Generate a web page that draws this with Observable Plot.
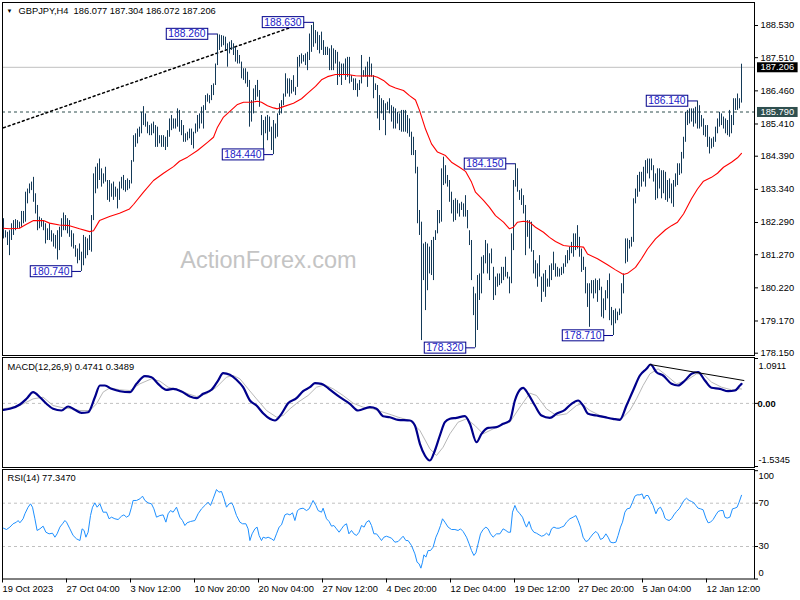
<!DOCTYPE html>
<html><head><meta charset="utf-8">
<script src="https://cdn.jsdelivr.net/npm/d3@7"></script>
<script src="https://cdn.jsdelivr.net/npm/@observablehq/plot@0.6"></script>
<style>
body{margin:0;background:#fff;}
#wrap{position:relative;width:800px;height:600px;overflow:hidden;background:#fff;}
#wrap > div{position:absolute;left:0;}
svg{overflow:visible;}
</style></head><body>
<div id="wrap"><div id="main" style="top:0"></div><div id="macd" style="top:356px"></div><div id="rsi" style="top:468px"></div></div>
<script>
// ---------- DATA ----------
const symbolTitle = "GBPJPY,H4  186.077 187.304 186.072 187.206";
const macdTitle = "MACD(12,26,9) 0.4741 0.3489";
const rsiTitle = "RSI(14) 77.3470";
const watermark = "ActionForex.com";

const high = [
182.41,182.03,181.98,182.03,182.25,182.35,182.38,182.35,182.30,182.64,
182.64,183.25,183.35,183.51,183.57,183.72,183.20,182.83,182.46,182.41,
182.35,182.25,182.09,182.25,182.03,181.93,181.88,182.03,182.14,182.41,
182.59,182.51,182.41,182.35,182.03,181.93,181.56,181.45,181.61,181.35,
181.88,181.82,181.77,181.88,182.51,183.83,184.04,184.15,184.30,183.99,
183.83,184.04,183.62,183.62,183.51,183.57,183.41,183.35,183.57,183.72,
183.78,183.62,183.67,183.62,184.25,185.04,185.10,185.25,185.31,185.78,
185.96,185.73,185.47,185.36,185.41,185.47,185.36,185.31,185.04,185.04,
185.04,184.99,185.20,185.57,185.68,185.57,185.57,185.89,185.84,185.52,
185.36,185.10,185.15,185.25,185.25,185.15,185.41,185.68,185.73,185.94,
185.99,186.31,186.36,186.31,186.63,186.68,187.31,188.26,188.23,188.21,
188.19,188.16,187.95,188.00,188.05,187.95,187.84,187.74,187.58,187.37,
187.16,187.16,187.05,186.79,186.15,186.52,186.63,186.79,186.47,185.68,
185.52,185.63,185.68,185.63,185.31,185.52,185.41,185.73,186.05,186.15,
186.36,187.00,186.84,186.84,186.79,186.94,186.57,187.52,187.58,187.63,
187.58,187.63,187.68,188.26,188.53,188.63,188.37,188.32,188.21,188.32,
188.05,187.84,187.84,187.79,187.89,187.79,187.74,187.68,187.37,187.31,
187.31,187.47,187.52,187.52,186.94,186.84,186.84,186.68,186.79,187.58,
187.10,187.21,187.37,187.52,187.31,186.94,186.68,186.63,186.31,186.21,
186.15,186.05,186.10,186.21,185.99,185.94,185.89,185.78,185.73,185.84,
185.84,185.84,185.68,185.57,185.15,184.99,184.57,184.04,182.67,182.30,
181.61,181.66,181.61,181.51,181.72,181.82,182.03,182.67,182.67,183.99,
184.36,184.09,183.78,183.62,183.25,182.99,183.04,182.99,182.88,182.93,
182.88,183.14,182.67,182.03,181.72,180.24,180.03,180.61,180.66,181.19,
181.24,181.72,181.61,181.30,181.45,180.87,180.56,180.66,180.66,180.87,
180.87,181.19,180.71,180.56,181.93,183.62,184.15,183.99,183.30,183.35,
183.14,182.83,182.35,182.35,182.30,181.40,181.08,180.98,181.24,180.56,
180.66,180.77,180.50,180.92,180.98,181.35,180.98,180.87,180.82,180.87,
180.98,181.24,181.40,181.51,181.66,181.93,181.93,182.19,181.82,181.45,
181.19,180.87,180.35,180.35,180.45,180.45,180.50,180.45,180.50,180.24,
179.87,180.13,180.45,180.66,179.60,179.50,179.55,179.45,179.55,180.35,
180.66,181.77,181.77,181.72,181.82,183.04,183.35,183.78,183.88,183.88,
184.04,184.25,184.30,184.30,184.30,184.09,183.83,183.99,183.99,183.93,
183.93,183.88,183.62,183.67,183.51,183.62,183.83,184.15,184.15,184.51,
184.99,185.78,185.84,185.89,185.89,185.89,185.94,186.14,185.99,185.68,
185.57,185.36,185.36,184.99,184.94,184.99,185.31,185.57,185.78,185.73,
185.63,185.57,185.52,185.84,185.68,186.21,186.21,186.36,186.21,187.304];

const low = [
181.77,181.80,181.56,181.24,181.72,181.88,182.03,182.09,182.09,182.14,
182.25,182.30,182.88,183.20,183.30,182.93,182.56,182.03,182.09,182.14,
182.03,181.61,181.72,181.72,181.67,181.51,181.45,181.10,181.40,181.82,
182.03,182.03,181.93,181.82,181.51,181.45,181.19,180.98,181.08,180.74,
180.92,181.14,181.24,181.40,181.35,182.35,183.20,183.35,183.62,183.41,
183.51,183.57,182.99,182.93,183.09,182.99,183.09,182.72,182.99,183.35,
183.30,183.25,183.30,183.35,183.51,184.20,184.67,184.78,184.99,185.10,
185.36,185.31,185.10,185.04,185.04,185.10,184.67,184.67,184.78,184.67,
184.67,184.57,184.67,184.99,185.20,185.25,185.25,185.31,185.15,185.04,
184.83,184.83,184.88,184.94,184.73,184.62,185.10,185.15,185.25,185.41,
185.25,185.84,186.10,186.05,186.15,186.31,186.63,187.26,187.74,187.84,
187.89,187.74,187.21,187.63,187.74,187.58,187.37,187.31,187.31,186.84,
186.79,186.68,186.57,185.31,185.47,185.73,186.15,186.26,185.94,185.04,
184.46,185.10,184.88,185.15,184.57,184.44,184.94,184.99,185.68,185.73,
185.99,186.26,186.36,186.26,186.36,186.42,186.31,186.57,187.21,187.31,
187.37,187.26,187.10,187.42,187.68,187.84,187.95,187.74,187.63,187.74,
187.58,187.58,187.58,187.10,187.10,187.10,187.31,186.63,186.89,186.63,
186.94,186.79,186.89,186.68,186.73,186.47,186.47,186.26,186.47,186.68,
186.89,186.89,186.57,186.89,186.89,186.21,186.47,185.57,185.20,185.73,
185.52,185.04,185.84,185.73,185.47,185.25,185.25,185.41,185.20,185.15,
185.15,185.15,185.10,184.99,184.41,184.41,183.83,182.25,181.88,178.55,
180.45,179.50,180.13,180.66,180.61,180.45,181.72,181.93,182.25,182.30,
183.46,183.51,183.41,182.93,182.56,182.30,182.35,182.56,182.46,182.67,
182.46,182.46,182.09,181.56,180.45,179.34,178.32,178.87,179.82,180.03,
180.66,180.98,180.66,180.45,180.98,179.82,179.97,180.24,180.29,180.35,
180.45,180.56,180.50,180.03,180.35,181.40,183.41,183.25,182.99,182.83,
182.56,181.24,181.82,181.45,181.35,180.66,180.50,180.24,180.56,179.76,
180.08,179.92,180.24,180.24,180.45,180.77,180.56,180.56,180.56,180.61,
180.66,180.87,180.98,181.08,181.30,181.19,181.40,181.45,181.19,180.71,
180.77,180.03,179.60,178.97,180.03,179.87,180.03,179.76,180.13,179.29,
179.24,179.50,179.87,179.18,179.02,178.71,179.08,179.18,179.34,179.39,
180.03,180.98,181.03,181.45,181.51,181.66,182.88,183.09,183.25,183.41,
183.57,183.41,183.83,183.67,183.93,183.57,182.99,183.04,183.35,183.04,
183.20,182.99,182.93,183.04,182.88,182.77,183.41,183.46,183.78,183.83,
184.30,184.83,185.36,185.41,185.47,185.31,185.41,185.25,185.25,185.31,
185.04,184.99,184.67,184.46,184.62,184.67,184.83,185.10,185.31,185.36,
185.25,185.10,185.04,184.99,185.10,185.36,185.84,185.84,185.89,186.072];

// moving average (bar index, price)
const maPoints = [[0,182.11],[3,182.09],[8,182.11],[11,182.22],[15,182.35],[20,182.35],[23,182.27],[28,182.21],[33,182.19],[38,182.09],[43,182.00],[45,182.03],[48,182.35],[53,182.48],[58,182.58],[63,182.72],[65,182.86],[70,183.25],[75,183.62],[80,183.85],[85,184.06],[88,184.23],[92,184.36],[97,184.57],[102,184.83],[105,184.99],[107,185.31],[110,185.63],[114,185.86],[117,186.03],[120,186.10],[124,186.10],[127,186.13],[129,186.10],[132,185.99],[135,185.92],[137,185.89],[140,185.96],[145,186.07],[149,186.21],[152,186.38],[156,186.60],[159,186.81],[162,186.91],[166,186.98],[169,186.98],[172,186.98],[176,186.94],[179,186.93],[182,186.94],[185,186.93],[187,186.89],[190,186.79],[193,186.63],[196,186.55],[200,186.47],[203,186.31],[206,186.17],[208,185.84],[211,185.25],[214,184.78],[217,184.52],[221,184.41],[224,184.20],[228,184.04],[231,183.91],[234,183.57],[236,183.25],[240,182.99],[243,182.77],[246,182.51],[250,182.30],[253,182.09],[255,182.14],[257,182.30],[260,182.33],[263,182.30],[266,182.14],[270,181.98],[273,181.82],[276,181.69],[280,181.56],[284,181.53],[287,181.53],[290,181.51],[292,181.29],[297,181.14],[302,180.95],[306,180.79],[310,180.64],[312,180.68],[316,180.87],[319,181.14],[322,181.45],[326,181.77],[331,182.06],[334,182.19],[337,182.30],[340,182.56],[344,183.04],[347,183.35],[350,183.60],[354,183.72],[357,183.85],[360,184.04],[364,184.20],[367,184.34],[369,184.48]];

const lastPrice = 187.206;
const levelPrice = 185.790;
const trendPoints = [[0,185.29],[150,188.61]];
const callouts = [[39,180.74],[107,188.26],[135,184.44],[155,188.63],[236,178.32],[256,184.15],[305,178.71],[347,186.14]];
const priceTicks = [188.530,187.510,186.460,185.410,184.390,183.340,182.290,181.270,180.220,179.170,178.150];

const macdPoints = [[0,-0.156],[3.2,-0.132],[8.2,-0.027],[11.5,0.111],[14.8,0.272],[18.2,0.150],[21.5,-0.010],[24.8,-0.132],[29,-0.173],[32.3,-0.076],[35.7,-0.156],[39,-0.229],[42.3,-0.215],[45.7,0.150],[48.2,0.435],[50.7,0.435],[54,0.354],[58.2,0.296],[63.2,0.272],[66.5,0.476],[70.7,0.661],[74,0.636],[77.3,0.476],[81.5,0.330],[84.8,0.354],[89,0.289],[93.2,0.167],[96.5,0.126],[99.8,0.233],[104,0.330],[107.3,0.556],[109.8,0.734],[113.2,0.695],[116.5,0.573],[119.8,0.393],[123.2,0.070],[126.5,-0.052],[129.8,-0.239],[133.2,-0.375],[135.7,-0.416],[139,-0.254],[142.3,0.004],[146.5,0.126],[149.8,0.296],[153.2,0.393],[155.7,0.491],[159,0.476],[162.3,0.369],[164.8,0.272],[168.2,0.150],[173.2,-0.010],[177.3,-0.173],[183.2,-0.093],[186.5,-0.132],[189.8,-0.312],[193.2,-0.336],[197.3,-0.400],[203.2,-0.416],[205.7,-0.538],[208.2,-0.983],[210.7,-1.267],[213.2,-1.389],[215.7,-1.146],[218.2,-0.781],[220.7,-0.458],[223.2,-0.375],[226.5,-0.351],[230.7,-0.312],[233.2,-0.497],[236.5,-0.944],[239,-0.740],[242.3,-0.594],[246.5,-0.579],[249.8,-0.497],[253.2,-0.416],[255.7,0.070],[258.2,0.330],[259.8,0.379],[262.3,0.233],[265.7,-0.052],[269,-0.295],[273.2,-0.351],[276.5,-0.254],[280.7,-0.156],[284,-0.010],[287.3,0.070],[289.8,-0.052],[292.3,-0.254],[296.5,-0.295],[300.7,-0.336],[304.8,-0.375],[308.2,-0.399],[311.5,-0.052],[314.8,0.313],[318.2,0.678],[321.5,0.841],[323.5,0.945],[326.5,0.758],[329.8,0.678],[334,0.476],[337.3,0.435],[340.7,0.556],[344,0.719],[347.3,0.758],[350.7,0.556],[354,0.379],[358.2,0.354],[362.3,0.296],[365.7,0.313],[368.2,0.435],[369,0.474]];

const signalPoints = [[0,-0.133],[8.2,-0.052],[14.8,0.110],[19.8,0.150],[24.8,-0.052],[29.8,-0.108],[34,-0.133],[38.2,-0.173],[43.2,-0.173],[46.5,-0.011],[49.8,0.273],[53.2,0.378],[58.2,0.329],[63.2,0.313],[68.2,0.475],[74,0.597],[78.2,0.540],[82.3,0.394],[87.3,0.337],[92.3,0.232],[96.5,0.167],[101.5,0.232],[106.5,0.394],[111.5,0.637],[114.8,0.678],[118.2,0.597],[122.3,0.354],[126.5,0.110],[131.5,-0.173],[136.5,-0.335],[139.8,-0.295],[143.2,-0.133],[147.3,0.030],[152.3,0.192],[156.5,0.394],[160.7,0.451],[164.8,0.354],[169.8,0.192],[174.8,0.005],[179.8,-0.092],[184.8,-0.133],[189.8,-0.214],[194,-0.279],[197.3,-0.335],[203.2,-0.416],[208.2,-0.659],[213.2,-1.105],[216.5,-1.267],[219.8,-1.065],[223.2,-0.740],[227.3,-0.457],[231.5,-0.376],[235.7,-0.538],[239.8,-0.740],[243.2,-0.659],[248.2,-0.538],[253.2,-0.457],[258.2,-0.092],[263.2,0.248],[266.5,0.192],[271.5,-0.133],[276.5,-0.295],[281.5,-0.254],[286.5,-0.052],[289,-0.011],[293.2,-0.173],[298.2,-0.295],[304.8,-0.376],[309,-0.376],[313.2,-0.173],[316.5,0.110],[319.8,0.435],[323.2,0.718],[327.3,0.840],[331.5,0.678],[336.5,0.475],[341.5,0.556],[346.5,0.718],[349.8,0.718],[354,0.516],[359,0.394],[364,0.329],[368.2,0.354],[369,0.349]];

const macdTrend = [[323.2,0.945],[370.2,0.556]];
const macdMax = 1.0911, macdMin = -1.5345;

const rsiPoints = [[0,46.9],[1.5,45.7],[3.2,47.9],[4.8,51.0],[6.5,52.5],[7.3,54.0],[8.2,51.9],[9.8,55.6],[10.7,60.2],[12.3,66.3],[13.5,69.4],[14.5,66.3],[15.7,55.6],[16.8,44.8],[18.2,46.3],[19.8,48.8],[21.2,43.2],[22.8,41.7],[24.5,42.3],[25.7,38.6],[26.8,41.7],[28.2,47.9],[29.5,51.0],[30.7,54.0],[31.5,52.5],[33.2,46.3],[34.8,40.2],[36.5,37.1],[38.2,35.5],[39.3,46.3],[40.3,44.8],[41.2,38.6],[42.3,43.2],[43.5,58.6],[44.5,66.3],[45.7,70.3],[46.8,66.3],[48.2,69.4],[49.8,61.7],[51.5,61.7],[52.8,55.6],[54,57.1],[55.7,55.6],[57.3,54.9],[59,58.0],[60.2,59.2],[61.5,57.1],[62.8,58.6],[64,66.3],[64.8,72.5],[66.5,72.5],[68.2,74.0],[69.5,76.5],[70.7,72.5],[72.3,70.3],[74,69.4],[75.2,64.8],[76.5,57.1],[78.2,58.6],[79.8,59.2],[81.2,52.5],[82.3,60.2],[83.5,63.2],[84.8,61.7],[86.5,66.3],[88.2,57.1],[89.5,54.0],[90.7,49.4],[91.8,51.9],[93.5,53.1],[95.7,54.0],[97.3,60.2],[99,64.8],[100.7,67.9],[102.3,70.9],[103.5,67.9],[104.8,74.0],[106.5,82.6],[107.7,80.2],[109,80.8],[110.2,74.6],[111.5,66.3],[112.8,69.4],[114,70.3],[114.8,67.9],[116.5,58.6],[118.2,52.5],[119.5,51.0],[121.2,51.0],[122.3,46.3],[123.2,35.5],[124.3,41.7],[125.7,46.3],[126.8,47.9],[127.8,40.2],[129,35.5],[129.8,38.6],[131.2,37.7],[132.3,38.6],[134,37.1],[135.2,35.5],[136.5,41.7],[137.8,47.9],[139,50.0],[140.7,59.2],[141.8,60.2],[143.2,59.2],[144.5,61.1],[145.7,54.0],[147,63.2],[148.2,64.8],[149.8,65.4],[151.5,63.2],[152.8,64.8],[154,69.4],[154.8,72.5],[156.2,67.9],[157.3,63.2],[159,61.7],[159.8,65.4],[161.5,55.6],[162.8,53.1],[164,48.8],[165.2,49.4],[166.5,46.3],[167.8,43.2],[169,46.3],[170.2,49.4],[171.5,51.0],[172.7,41.7],[174,44.8],[175.2,41.7],[176.5,40.2],[177.8,43.2],[179,49.4],[180.3,47.9],[181.5,52.5],[182.8,54.0],[184,49.4],[185.2,41.7],[186.5,41.7],[187.8,38.6],[189,35.5],[190.2,38.6],[191.5,39.5],[192.8,38.6],[194,37.7],[195.7,34.0],[197.3,34.6],[199.8,39.5],[201.2,35.5],[202.3,35.5],[204,30.9],[205.7,23.2],[206.8,15.5],[207.8,14.0],[208.7,10.0],[209.5,15.5],[210.2,22.3],[211.2,20.2],[212.3,26.3],[213.5,26.3],[214.8,29.4],[216.2,38.6],[217.3,43.2],[218.5,49.4],[219.5,55.6],[220.7,52.5],[222.3,47.9],[224,45.7],[225.7,45.7],[227.3,44.8],[228.5,46.3],[229.8,43.9],[231.5,38.6],[232.8,32.5],[234,26.3],[235.2,21.7],[236.2,24.2],[237.3,32.5],[238.5,41.7],[239.8,45.7],[241.2,47.9],[242.3,46.3],[243.5,41.7],[244.8,38.6],[246.5,41.7],[248.2,41.7],[249.8,46.3],[251.2,44.8],[252.3,43.2],[253.5,43.2],[254.5,61.7],[255.7,67.9],[256.8,63.2],[258.2,60.2],[259.5,57.1],[260.7,51.0],[261.5,47.9],[262.8,53.1],[264,46.3],[265.2,43.2],[266.5,42.3],[267.8,40.8],[269,39.5],[270.2,40.2],[271.5,42.3],[272.8,40.2],[274,46.3],[275.2,47.9],[276.5,46.9],[277.8,46.9],[279,47.9],[280.2,48.8],[281.5,52.5],[283.2,55.6],[284.8,57.1],[286.2,58.6],[287.3,54.0],[288.5,47.9],[289.8,38.6],[291.2,34.6],[292.3,35.5],[293.5,38.6],[294.8,41.7],[296.2,43.9],[297.3,41.7],[298.5,36.5],[299.8,37.7],[301.2,41.7],[302.3,38.6],[303.5,34.0],[304.8,33.4],[306.2,34.0],[307.3,40.2],[308.5,47.9],[309.5,52.5],[310.7,61.7],[311.8,64.8],[313.2,65.4],[314.5,70.9],[315.7,76.5],[316.8,77.7],[318.2,77.7],[319.3,78.6],[320.2,74.0],[321.2,77.1],[322.3,77.1],[323.5,72.5],[324.8,67.9],[326.2,60.2],[327.3,64.8],[328.5,66.3],[329.8,61.7],[330.7,56.2],[331.5,54.9],[332.8,54.0],[334,55.6],[335.2,59.2],[336.5,62.3],[337.8,64.8],[339,68.5],[340.2,72.5],[341.5,74.6],[342.8,72.5],[344,71.6],[345.2,70.3],[346.2,67.9],[347.3,65.4],[348.5,64.8],[349.8,63.9],[351.2,56.2],[352.3,51.9],[353.5,52.5],[354.8,54.9],[356.2,59.2],[357.3,62.3],[358.5,63.2],[359.8,63.2],[360.7,57.1],[361.8,56.2],[363.2,57.1],[364.5,64.8],[365.7,65.4],[366.8,66.3],[367.8,70.9],[369,77.3]];
const rsiLevels = [70, 30];
const rsiTicks = [100, 70, 30, 0];

const timeTicks = [0,32,64,96,128,160,192,224,256,288,320,352];
const timeLabels = ["19 Oct 2023","27 Oct 04:00","3 Nov 12:00","10 Nov 20:00","20 Nov 04:00","27 Nov 12:00","4 Dec 20:00","12 Dec 04:00","19 Dec 12:00","27 Dec 20:00","5 Jan 04:00","12 Jan 12:00"];

// ---------- BUILD ----------
const FONT = "'Liberation Sans', Arial, sans-serif";
const BAR = "#143a58";
const bars = high.map((h, i) => ({i, high: h, low: low[i]}));
const pts = a => a.map(([x, y]) => ({x, y}));
const X = {domain: [-0.5, 375.5], axis: null};
const common = {width: 800, marginLeft: 2, marginRight: 46,
  style: {fontFamily: FONT, fontSize: "9.3px", background: "transparent", color: "#000", overflow: "visible"}};
const calloutData = callouts.map(([i, p]) => ({i, p, t: p.toFixed(3)}));

const mainPlot = Plot.plot({
  ...common, height: 356, marginTop: 2, marginBottom: 1,
  x: X,
  y: {domain: [178.15, 188.53], range: [352.7, 25], axis: null},
  marks: [
    Plot.text([watermark], {frameAnchor: "top-left", dx: 266, dy: 258, fontSize: 23.5, fill: "#c4c4c4", textAnchor: "middle", lineAnchor: "middle"}),
    Plot.ruleY([lastPrice], {stroke: "#c0c0c0"}),
    Plot.ruleY([levelPrice], {stroke: "#2f4f4f", strokeDasharray: "3,3"}),
    Plot.line(pts(trendPoints), {x: "x", y: "y", stroke: "#000", strokeDasharray: "2,3"}),
    Plot.ruleX(bars, {x: "i", y1: "low", y2: "high", stroke: BAR}),
    Plot.line(pts(maPoints), {x: "x", y: "y", stroke: "#ff0000", strokeWidth: 1.1}),
    Plot.ruleY(calloutData, {y: "p", x1: d => d.i - 5, x2: "i", stroke: "#00008b"}),
    Plot.text(calloutData, {x: "i", y: "p", text: "t", dx: -12, textAnchor: "end", fill: "#2020c8", fontSize: 10.3}),
    Plot.axisY(priceTicks, {anchor: "right", tickSize: 3, tickPadding: 3, tickFormat: d3.format(".3f"), label: null, fill: "#000"}),
    Plot.text([levelPrice], {y: d => d, text: d => d.toFixed(3), frameAnchor: "right", dx: 6, textAnchor: "start", fill: "#ffffff"}),
    Plot.text([lastPrice], {y: d => d, text: d => d.toFixed(3), frameAnchor: "right", dx: 6, textAnchor: "start", fill: "#ffffff"}),
    Plot.frame({stroke: "#000"}),
    Plot.text(["\u25BC"], {frameAnchor: "top-left", dx: 7, dy: 9, fontSize: 6, textAnchor: "middle", lineAnchor: "middle"}),
    Plot.text([symbolTitle], {frameAnchor: "top-left", dx: 16, dy: 9, textAnchor: "start", lineAnchor: "middle"})
  ]
});
document.getElementById("main").appendChild(mainPlot);

const macdPlot = Plot.plot({
  ...common, height: 112, marginTop: 1, marginBottom: 1,
  x: X,
  y: {domain: [macdMin, macdMax], range: [110, 2], axis: null},
  marks: [
    Plot.ruleY([0], {stroke: "#c0c0c0", strokeDasharray: "3,3"}),
    Plot.line(pts(signalPoints), {x: "x", y: "y", stroke: "#b8b8b8", strokeWidth: 1}),
    Plot.line(pts(macdPoints), {x: "x", y: "y", stroke: "#00008b", strokeWidth: 2.2, curve: "monotone-x"}),
    Plot.line(pts(macdTrend), {x: "x", y: "y", stroke: "#000", strokeWidth: 1}),
    Plot.axisY([macdMax, 0, macdMin], {anchor: "right", tickSize: 3, tickFormat: () => "", label: null}),
    Plot.text([macdMax], {y: d => d, text: d => d.toFixed(4), frameAnchor: "right", dx: 4, dy: 7.7, textAnchor: "start"}),
    Plot.text([0], {y: d => d, text: d => d.toFixed(2), frameAnchor: "right", dx: 3, dy: 0.4, textAnchor: "start", fontWeight: "bold"}),
    Plot.text([macdMin], {y: d => d, text: d => d.toFixed(4), frameAnchor: "right", dx: 4, dy: -6.7, textAnchor: "start"}),
    Plot.frame({stroke: "#000"}),
    Plot.text([macdTitle], {frameAnchor: "top-left", dx: 5, dy: 10, textAnchor: "start", lineAnchor: "middle"})
  ]
});
document.getElementById("macd").appendChild(macdPlot);

const rsiPlot = Plot.plot({
  ...common, height: 132, marginTop: 1, marginBottom: 21.5,
  x: X,
  y: {domain: [0, 100], range: [110.5, 2.2], axis: null},
  marks: [
    Plot.ruleY(rsiLevels, {stroke: "#c0c0c0", strokeDasharray: "3,3"}),
    Plot.line(pts(rsiPoints), {x: "x", y: "y", stroke: "#1e90ff", strokeWidth: 1}),
    Plot.axisY(rsiTicks, {anchor: "right", tickSize: 3, tickFormat: () => "", label: null}),
    ...rsiTicks.map(v => Plot.text([v], {y: d => d, text: d => String(d), frameAnchor: "right", dx: 4, dy: v === 100 ? 5.8 : v === 0 ? -6.2 : 0, textAnchor: "start"})),
    Plot.axisX(timeTicks, {anchor: "bottom", tickSize: 4, tickPadding: 2.5, textAnchor: "start", dx: -1,
      tickFormat: d => timeLabels[timeTicks.indexOf(d)], label: null}),
    Plot.frame({stroke: "#000"}),
    Plot.text([rsiTitle], {frameAnchor: "top-left", dx: 5, dy: 8.3, textAnchor: "start", lineAnchor: "middle"})
  ]
});
document.getElementById("rsi").appendChild(rsiPlot);

// boxes behind labelled values
function boxTexts(svg, strings, fill, stroke, padX, padY) {
  const NS = "http://www.w3.org/2000/svg";
  svg.querySelectorAll("text").forEach(t => {
    if (!strings.includes(t.textContent)) return;
    const b = t.getBBox();
    const r = document.createElementNS(NS, "rect");
    r.setAttribute("x", b.x - padX);
    r.setAttribute("y", b.y - padY);
    r.setAttribute("width", b.width + 2 * padX);
    r.setAttribute("height", b.height + 2 * padY);
    r.setAttribute("fill", fill);
    r.setAttribute("stroke", stroke);
    const tr = t.getAttribute("transform");
    if (tr) r.setAttribute("transform", tr);
    t.parentNode.insertBefore(r, t);
  });
}
boxTexts(mainPlot, calloutData.map(d => d.t), "#ffffff", "#00008b", 2, 0);
boxTexts(mainPlot, [lastPrice.toFixed(3)], "#000000", "none", 3.5, 0);
boxTexts(mainPlot, [levelPrice.toFixed(3)], "#2f4f4f", "none", 3.5, 0);
</script>
</body></html>
